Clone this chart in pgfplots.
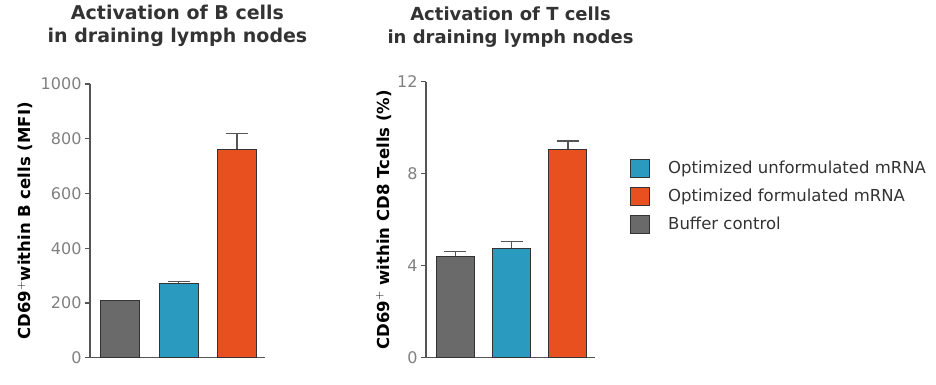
\documentclass[border=0pt]{standalone}
\usepackage{fontspec}
\setmainfont{DejaVu Sans}
\usepackage{pgfplots}
\pgfplotsset{compat=1.18}
\definecolor{cgray}{HTML}{6A6A6A}
\definecolor{cblue}{HTML}{2A9BBE}
\definecolor{corange}{HTML}{E8511F}
\definecolor{caxis}{HTML}{555555}
\definecolor{ctick}{HTML}{808080}
\definecolor{ctext}{HTML}{333333}
\pgfplotsset{
  mybars/.style={
    scale only axis,
    anchor=south west,
    ybar, bar shift=0pt,
    axis lines=left,
    axis line style={-, caxis, line width=1.2pt},
    xtick=\empty,
    tick align=outside,
    ytick style={caxis, line width=1.2pt},
    major tick length=5pt,
    xmin=-0.52, xmax=2.48, ymin=0,
    clip=false,
    /pgf/number format/assume math mode=true,
    /pgf/number format/1000 sep={},
    yticklabel style={font=\fontsize{16}{16}\selectfont, text=ctick},
    title style={font=\bfseries\fontsize{19}{23}\selectfont, text=ctext, align=center, anchor=south},
    ylabel style={font=\bfseries\fontsize{16.5}{18}\selectfont, text=black, anchor=center},
    every axis plot/.append style={draw=ctext, line width=1pt},
  },
  errstyle/.style={error bars/.cd, y dir=plus, y explicit,
    error bar style={line width=1.2pt, caxis},
    error mark options={rotate=90, mark size=11pt, line width=1.2pt, caxis}},
}
\begin{document}
\begin{tikzpicture}
\useasboundingbox (0pt,0pt) rectangle (936pt,384pt);
\begin{axis}[mybars,
  at={(90pt,26.3pt)}, width=175pt, height=273.7pt,
  bar width=39pt,
  ymax=1000, ytick={0,200,400,600,800,1000},
  title={Activation of B cells\\in draining lymph nodes},
  title style={at={(0.5,1.10)}},
  ylabel={CD69$^{+}$within B cells (MFI)},
  ylabel style={at={(axis description cs:-0.37,0.5)}},
]
\addplot[fill=cgray, draw=ctext] coordinates {(0,208)};
\addplot[fill=cblue, draw=ctext, errstyle] coordinates {(1,272) +- (0,7)};
\addplot[fill=corange, draw=ctext, errstyle] coordinates {(2,761) +- (0,59)};
\end{axis}
\begin{axis}[mybars,
  at={(426pt,26.3pt)}, width=169pt, height=276pt,
  bar width=38pt,
  ymax=12, ytick={0,4,8,12},
  title={Activation of T cells\\in draining lymph nodes},
  title style={at={(0.5,1.09)}, font=\bfseries\fontsize{18}{23}\selectfont},
  ylabel={CD69$^{+}$ within CD8 Tcells (\%)},
  ylabel style={at={(axis description cs:-0.25,0.5)}},
  legend style={at={(1.207,0.585)}, anchor=west, draw=none, fill=none,
    font=\fontsize{16.5}{18}\selectfont, text=ctext, inner sep=0pt,
    row sep=9pt, column sep=16pt, cells={anchor=west}},
  legend image code/.code={\draw[#1, line width=1pt] (0pt,-9pt) rectangle (19pt,9pt);},
]
\addplot[forget plot, fill=cgray, draw=ctext, errstyle] coordinates {(0,4.42) +- (0,0.21)};
\addplot[forget plot, fill=cblue, draw=ctext, errstyle] coordinates {(1,4.76) +- (0,0.28)};
\addplot[forget plot, fill=corange, draw=ctext, errstyle] coordinates {(2,9.06) +- (0,0.36)};
\addlegendimage{fill=cblue, draw=ctext}
\addlegendentry{Optimized unformulated mRNA}
\addlegendimage{fill=corange, draw=ctext}
\addlegendentry{Optimized formulated mRNA}
\addlegendimage{fill=cgray, draw=ctext}
\addlegendentry{Buffer control}
\end{axis}
\end{tikzpicture}
\end{document}
